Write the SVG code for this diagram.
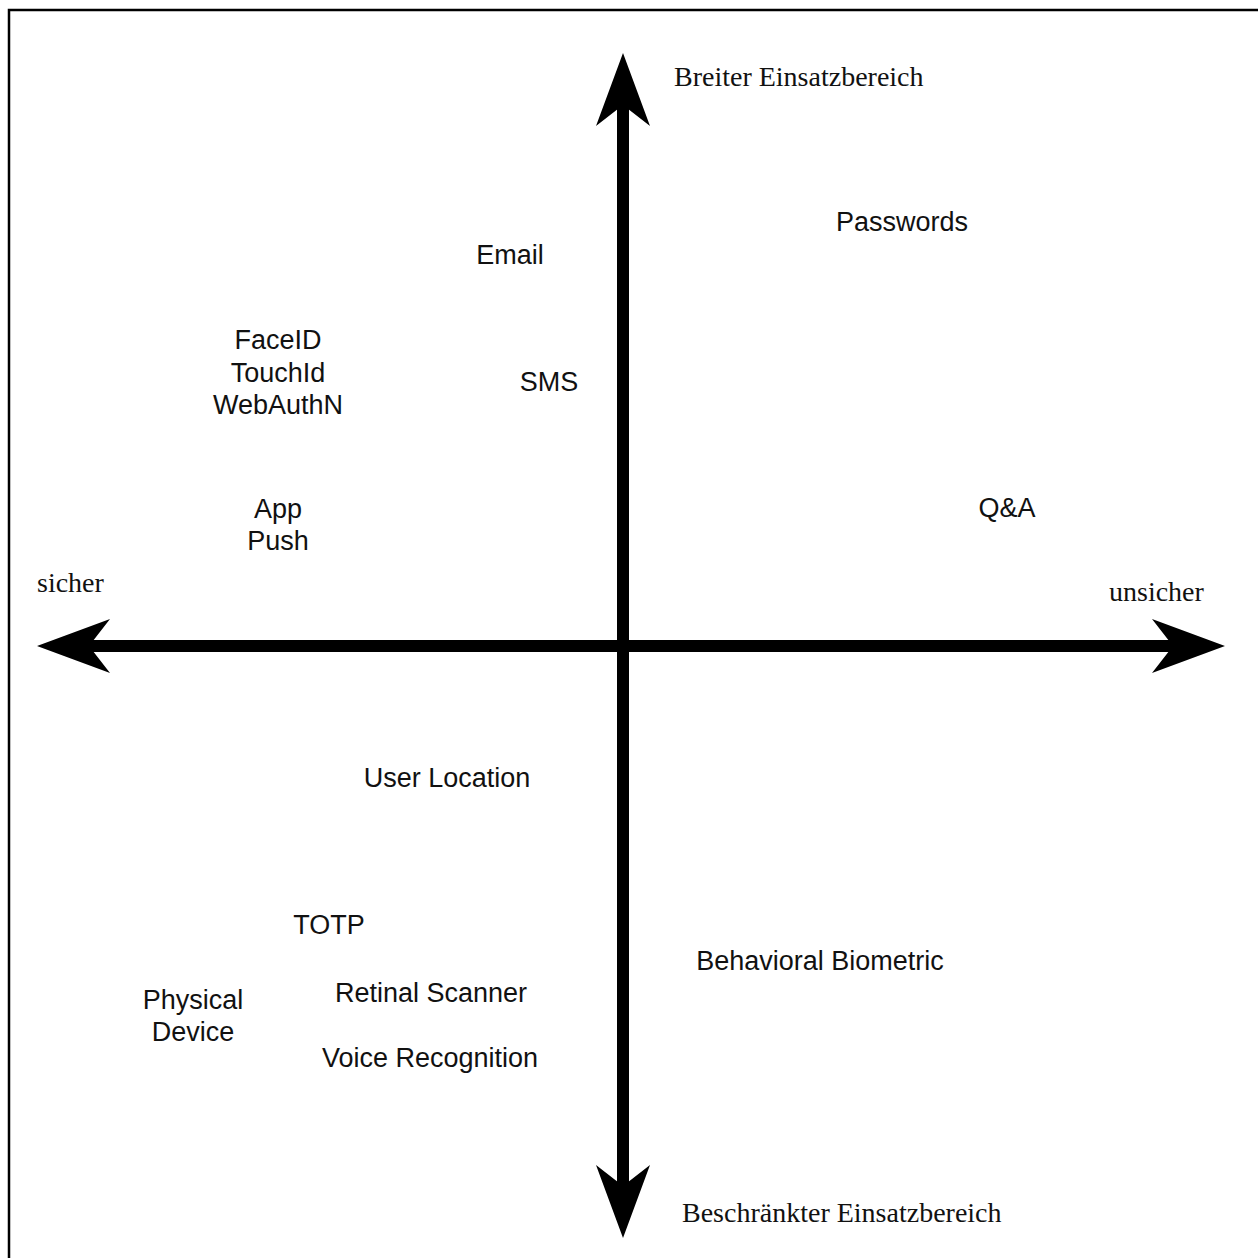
<svg xmlns="http://www.w3.org/2000/svg" width="1258" height="1258" viewBox="0 0 1258 1258">
<style>
.s{font-family:"Liberation Sans",Arial,sans-serif;font-size:27px;fill:#111;text-anchor:middle}
.r{font-family:"Liberation Serif","Times New Roman",serif;font-size:28px;fill:#111}
.axis{stroke:#000;stroke-width:12;fill:none}
</style>
<defs>
<marker id="ah" markerUnits="userSpaceOnUse" viewBox="-22 -28 75 56" refX="0" refY="0" markerWidth="75" markerHeight="56" orient="auto-start-reverse">
<path d="M52,0 L-21,-27 L0,0 L-21,27 Z" fill="#000"/>
</marker>
</defs>
<rect width="1258" height="1258" fill="#fff"/>
<polyline points="9,1258 9,10 1258,10" fill="none" stroke="#000" stroke-width="2.5"/>
<g id="connectors">
<line id="xaxis" class="axis" x1="89" y1="646" x2="1173" y2="646" marker-start="url(#ah)" marker-end="url(#ah)"/>
<line id="yaxis" class="axis" x1="623" y1="105" x2="623" y2="1186" marker-start="url(#ah)" marker-end="url(#ah)"/>
</g>
<g id="label-top"><text class="r" x="674" y="86">Breiter Einsatzbereich</text></g>
<g id="label-bottom"><text class="r" x="682" y="1222">Beschränkter Einsatzbereich</text></g>
<g id="label-left"><text class="r" x="37" y="592">sicher</text></g>
<g id="label-right"><text class="r" x="1109" y="601">unsicher</text></g>
<g id="passwords"><text class="s" x="902" y="231">Passwords</text></g>
<g id="email"><text class="s" x="510" y="264">Email</text></g>
<g id="biometric"><text class="s" x="278" y="349">FaceID</text><text class="s" x="278" y="382">TouchId</text><text class="s" x="278" y="414">WebAuthN</text></g>
<g id="sms"><text class="s" x="549" y="391">SMS</text></g>
<g id="apppush"><text class="s" x="278" y="518">App</text><text class="s" x="278" y="550">Push</text></g>
<g id="qa"><text class="s" x="1007" y="517">Q&amp;A</text></g>
<g id="userlocation"><text class="s" x="447" y="787">User Location</text></g>
<g id="totp"><text class="s" x="329" y="934">TOTP</text></g>
<g id="behavioral"><text class="s" x="820" y="970">Behavioral Biometric</text></g>
<g id="physical"><text class="s" x="193" y="1009">Physical</text><text class="s" x="193" y="1041">Device</text></g>
<g id="retinal"><text class="s" x="431" y="1002">Retinal Scanner</text></g>
<g id="voice"><text class="s" x="430" y="1067">Voice Recognition</text></g>
</svg>
